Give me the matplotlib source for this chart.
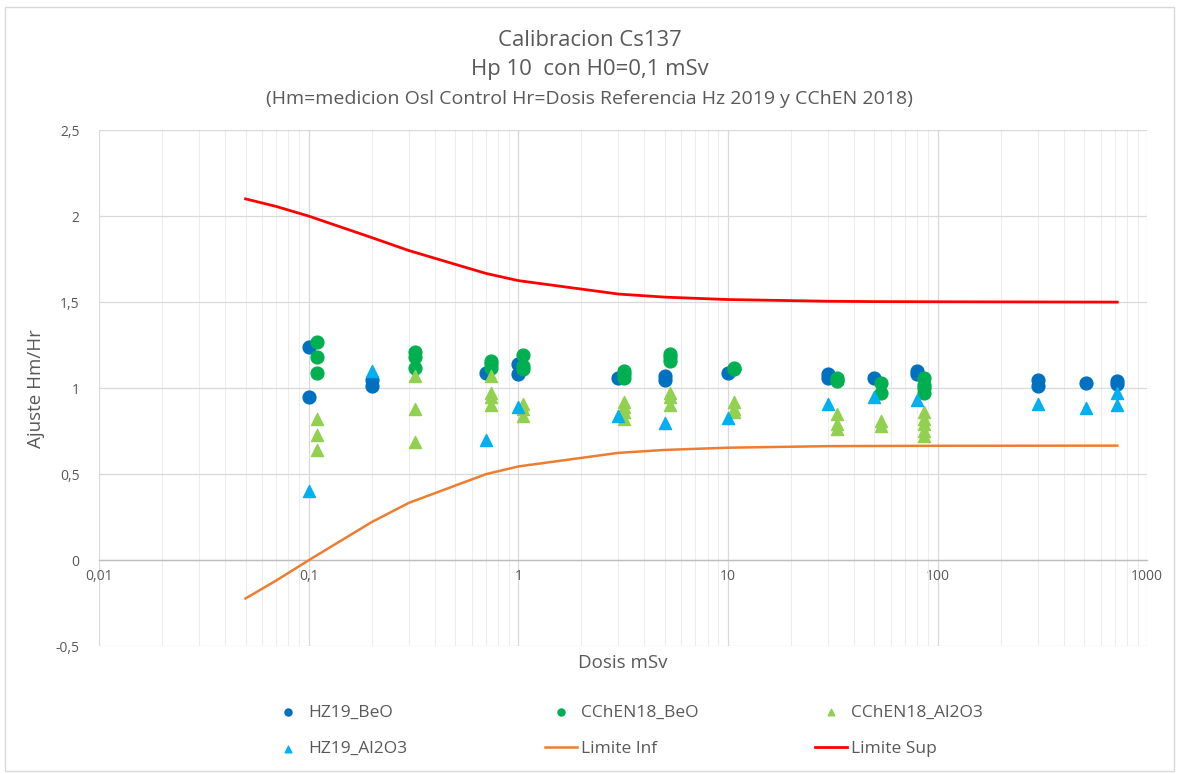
import numpy as np
import matplotlib
matplotlib.use("Agg")
import matplotlib.pyplot as plt
from matplotlib.ticker import LogLocator, NullFormatter
from matplotlib.patches import Rectangle

"""Data read from the chart"""
hz_beo_x = [0.1, 0.1, 0.2, 0.2, 0.7, 1, 1, 3, 5, 5, 10, 30, 30, 50, 80, 80, 300, 300, 510, 720, 720]
hz_beo_y = [1.24, 0.95, 1.05, 1.01, 1.09, 1.14, 1.08, 1.06, 1.07, 1.05, 1.09, 1.08, 1.06, 1.06, 1.10, 1.08, 1.05, 1.01, 1.03, 1.04, 1.025]

cc_beo_x = [0.11, 0.11, 0.11, 0.32, 0.32, 0.32, 0.74, 0.74, 0.74, 1.05, 1.05, 1.05,
            3.2, 3.2, 3.2, 5.3, 5.3, 5.3, 10.7, 10.7, 33, 33, 33, 54, 54, 86, 86, 86, 86]
cc_beo_y = [1.27, 1.18, 1.09, 1.21, 1.18, 1.12, 1.16, 1.14, 1.12, 1.19, 1.13, 1.11,
            1.10, 1.08, 1.06, 1.20, 1.18, 1.16, 1.12, 1.11, 1.06, 1.04, 1.05, 1.03, 0.97, 1.06, 1.02, 1.00, 0.97]

cc_al_x = [0.11, 0.11, 0.11, 0.32, 0.32, 0.32, 0.74, 0.74, 0.74, 0.74, 1.05, 1.05, 1.05,
           3.2, 3.2, 3.2, 3.2, 5.3, 5.3, 5.3, 10.7, 10.7, 10.7, 33, 33, 33, 54, 54,
           86, 86, 86, 86, 86]
cc_al_y = [0.82, 0.73, 0.64, 1.07, 0.88, 0.69, 1.07, 0.97, 0.95, 0.90, 0.91, 0.88, 0.84,
           0.92, 0.89, 0.86, 0.82, 0.97, 0.95, 0.90, 0.92, 0.88, 0.86, 0.85, 0.79, 0.76, 0.81, 0.78,
           0.86, 0.82, 0.79, 0.75, 0.72]

hz_al_x = [0.1, 0.2, 0.7, 1, 3, 5, 10, 30, 50, 80, 300, 510, 720, 720]
hz_al_y = [0.40, 1.10, 0.70, 0.89, 0.84, 0.80, 0.825, 0.91, 0.95, 0.93, 0.91, 0.885, 0.97, 0.90]

lim_x = [0.05, 0.07, 0.1, 0.2, 0.3, 0.7, 1, 3, 5, 10, 30, 50, 100, 720]
lim_inf = [-0.222, -0.118, 0.0, 0.222, 0.333, 0.5, 0.545, 0.624, 0.641, 0.654, 0.663, 0.664, 0.665, 0.666]
lim_sup = [2.1, 2.056, 2.0, 1.875, 1.8, 1.667, 1.625, 1.547, 1.529, 1.515, 1.505, 1.503, 1.502, 1.5]

x_ticks = [0.01, 0.1, 1, 10, 100, 1000]
x_labels = ["0,01", "0,1", "1", "10", "100", "1000"]
y_ticks = [-0.5, 0, 0.5, 1, 1.5, 2, 2.5]
y_labels = ["-0,5", "0", "0,5", "1", "1,5", "2", "2,5"]

plt.rcParams['font.family'] = ['Open Sans', 'DejaVu Sans']
gray = '#595959'

fig = plt.figure(figsize=(11.79, 7.74), dpi=100)
ax = fig.add_axes([0.084, 0.165, 0.889, 0.667])

"""Scatter series"""
h1 = ax.scatter(hz_beo_x, hz_beo_y, s=85, marker='o', color='#0070C0', label='HZ19_BeO', zorder=3)
h2 = ax.scatter(cc_beo_x, cc_beo_y, s=85, marker='o', color='#00B050', label='CChEN18_BeO', zorder=3)
h3 = ax.scatter(cc_al_x, cc_al_y, s=75, marker='^', color='#92D050', label='CChEN18_Al2O3', zorder=3)
h4 = ax.scatter(hz_al_x, hz_al_y, s=75, marker='^', color='#00B0F0', label='HZ19_Al2O3', zorder=3)
h5, = ax.plot(lim_x, lim_inf, color='#ED7D31', lw=1.8, label='Limite Inf', zorder=4)
h6, = ax.plot(lim_x, lim_sup, color='#FF0000', lw=2.0, label='Limite Sup', zorder=4)

"""Axes"""
ax.set_xscale('log')
ax.set_xlim(0.01, 1000)
ax.set_ylim(-0.5, 2.5)
ax.set_xticks(x_ticks)
ax.set_xticklabels(x_labels)
ax.xaxis.set_minor_locator(LogLocator(base=10, subs=range(2, 10)))
ax.xaxis.set_minor_formatter(NullFormatter())
ax.set_yticks(y_ticks)
ax.set_yticklabels(y_labels)
ax.tick_params(axis='both', which='both', length=0, colors=gray, labelsize=10)
ax.tick_params(axis='x', pad=6)
ax.tick_params(axis='y', pad=14)

for s in ['top', 'right', 'left']:
    ax.spines[s].set_visible(False)
ax.spines['bottom'].set_position(('data', 0))
ax.spines['bottom'].set_color('#BFBFBF')
ax.spines['bottom'].set_linewidth(1.0)

ax.grid(True, which='major', axis='both', color='#D9D9D9', lw=0.9)
ax.grid(True, which='minor', axis='x', color='#EDEDED', lw=0.8)
ax.set_axisbelow(True)

ax.set_ylabel('Ajuste Hm/Hr', fontsize=13.5, color=gray)
ax.yaxis.set_label_coords(-0.052, 0.5)
ax.text(0.5, -0.033, 'Dosis mSv', transform=ax.transAxes, ha='center', va='center',
        fontsize=13.5, color=gray)

"""Titles"""
fig.text(0.5, 0.948, 'Calibracion Cs137', ha='center', va='center', fontsize=15.9, color=gray)
fig.text(0.5, 0.910, 'Hp 10  con H0=0,1 mSv', ha='center', va='center', fontsize=15.9, color=gray)
fig.text(0.5, 0.872, '(Hm=medicion Osl Control Hr=Dosis Referencia Hz 2019 y CChEN 2018)',
         ha='center', va='center', fontsize=14, color=gray)

"""Legend: one column per legend so the columns sit where Excel put them"""
columns = [[h1, h4], [h2, h5], [h3, h6]]
col_left = [272, 545, 815]
for hs, x0 in zip(columns, col_left):
    leg = fig.legend(handles=hs, labels=[h.get_label() for h in hs], ncol=1,
                     loc='center left', bbox_to_anchor=(x0 / 1179, 0.0555),
                     frameon=False, fontsize=12.5, borderpad=0, borderaxespad=0,
                     handlelength=1.85, handletextpad=0.24, labelspacing=1.16,
                     markerscale=0.55)
    for t in leg.get_texts():
        t.set_color(gray)

"""Chart border"""
fig.patches.append(Rectangle((0.004, 0.004), 0.992, 0.987, transform=fig.transFigure,
                             fill=False, edgecolor='#D9D9D9', lw=1.0))

fig.savefig('out.png', dpi=100)
